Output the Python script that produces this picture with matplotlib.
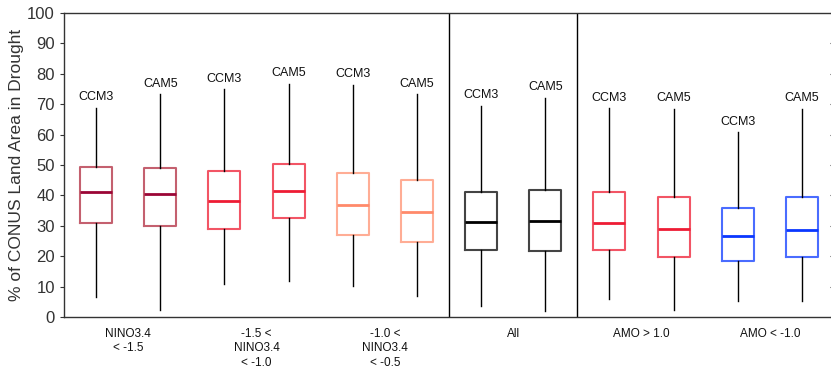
import matplotlib
matplotlib.use("Agg")
import matplotlib.pyplot as plt
from matplotlib import lines as mlines

plt.rcParams['font.family'] = ['Liberation Sans', 'DejaVu Sans']

# values (percent of CONUS land area in drought)
models = ['CCM3', 'CAM5'] * 6
whis_hi = [68.9, 73.3, 74.9, 76.8, 76.3, 73.3, 69.5, 72.1, 68.7, 68.4, 60.7, 68.4]
q3 = [49.5, 48.9, 48.0, 50.4, 47.4, 44.9, 41.0, 41.9, 41.1, 39.5, 36.0, 39.5]
med = [41.1, 40.4, 38.1, 41.3, 36.8, 34.5, 31.2, 31.5, 30.9, 28.9, 26.8, 28.6]
q1 = [31.0, 29.9, 29.0, 32.6, 26.9, 24.7, 22.2, 21.6, 22.1, 19.8, 18.5, 19.8]
whis_lo = [6.5, 2.4, 10.7, 11.8, 10.1, 6.8, 3.5, 1.9, 5.9, 2.2, 5.2, 5.2]
groups = ['NINO3.4\n< -1.5', '-1.5 <\nNINO3.4\n< -1.0', '-1.0 <\nNINO3.4\n< -0.5',
          'All', 'AMO > 1.0', 'AMO < -1.0']
group_colors = ['#9b0535', '#ee1c34', '#ff8a6a', '#000000', '#ee1c34', '#0a37ff']
box_edges = ['#c4606f', '#f25565', '#ffad95', '#444444', '#f25565', '#4a6cff']

fig = plt.figure(figsize=(8.31, 3.68), dpi=100)
# right spine sits just past the figure edge, only its inward ticks show
ax = fig.add_axes([0.077, 0.1386, 0.9266, 0.8261])

positions = list(range(1, 13))
stats = []
for i in range(12):
    stats.append(dict(med=med[i], q1=q1[i], q3=q3[i], whislo=whis_lo[i],
                      whishi=whis_hi[i], fliers=[]))

bp = ax.bxp(stats, positions=positions, widths=0.5, showcaps=False,
            showfliers=False, patch_artist=False)
for i in range(12):
    g = i // 2
    bp['boxes'][i].set_color(box_edges[g])
    bp['boxes'][i].set_linewidth(1.5)
    bp['medians'][i].set_color(group_colors[g])
    bp['medians'][i].set_linewidth(2)
for w in bp['whiskers']:
    w.set_color('black')
    w.set_linewidth(1)

for i in range(12):
    ax.text(positions[i], whis_hi[i] + 3.5, models[i], ha='center', va='center',
            fontsize=9, color='#111111')

for xd in [6.5, 8.5]:
    ax.axvline(xd, color='black', lw=1)

ax.set_xlim(0.5, 12.5)
ax.set_ylim(0, 100)
ax.set_yticks(range(0, 101, 10))
ax.set_xticks([1.5, 3.5, 5.5, 7.5, 9.5, 11.5])
ax.set_xticklabels(groups, fontsize=8.5, color='#111111', linespacing=1.25)
ax.tick_params(axis='x', length=0, pad=8)
ax.tick_params(axis='y', labelsize=12, labelcolor='#333333', direction='out',
               length=3, color='#333333', right=True)
for t in ax.yaxis.get_major_ticks():
    t.tick2line.set_marker(mlines.TICKLEFT)
ax.set_ylabel('% of CONUS Land Area in Drought', fontsize=12.5, color='#333333',
              labelpad=2)
for s in ax.spines.values():
    s.set_color('#333333')
    s.set_linewidth(1)

fig.savefig('out.png', dpi=100)
